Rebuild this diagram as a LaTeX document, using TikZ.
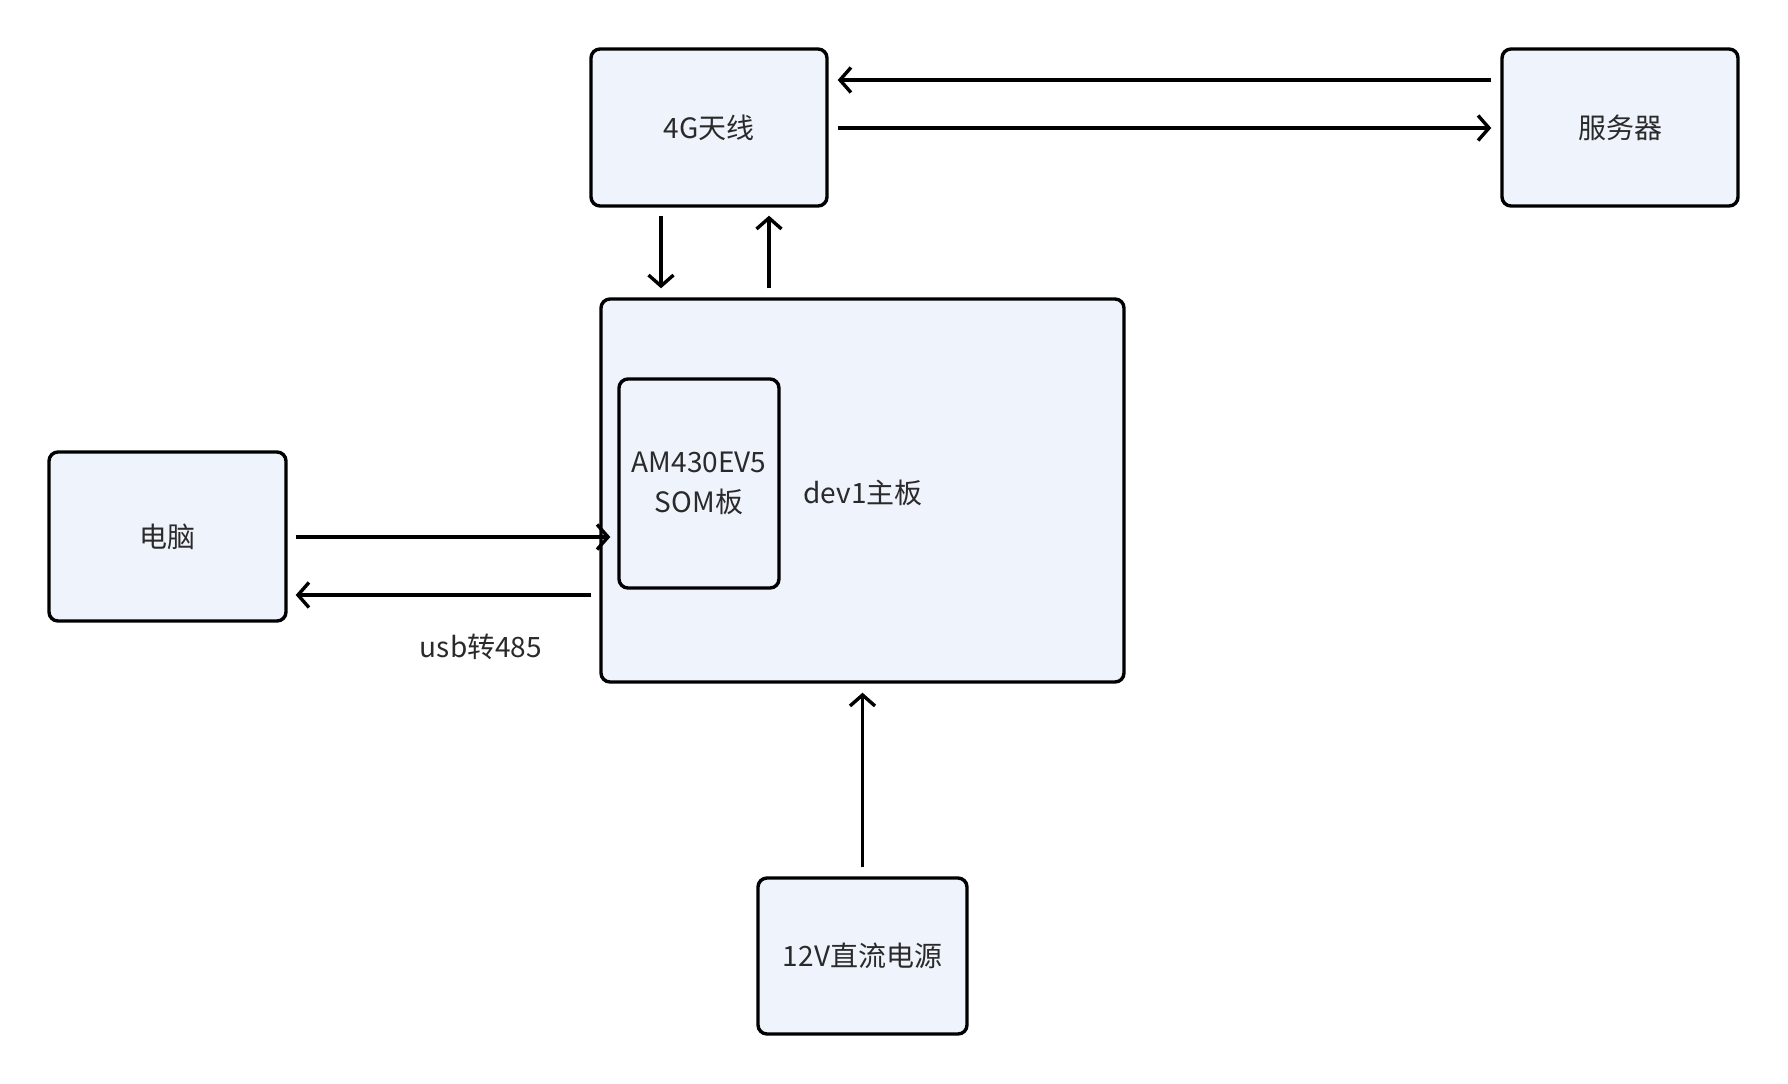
\documentclass[tikz,border=0pt]{standalone}
\usepackage{fontspec}
\setmainfont{Noto Sans CJK SC}
\usetikzlibrary{arrows.meta}
\definecolor{boxfill}{HTML}{EEF3FC}
\definecolor{txt}{HTML}{2A2A2A}
\tikzset{
  blk/.style={draw=black, line width=3.4pt, fill=boxfill, rounded corners=9pt,
    inner sep=0pt, text=txt, font=\fontsize{28pt}{40pt}\selectfont, align=center,
    execute at begin node={\vspace*{5pt}}},
  lbl/.style={text=txt, font=\fontsize{28pt}{40pt}\selectfont, inner sep=0pt},
  arr/.style={line width=3.4pt, -{Straight Barb[length=11pt,width=25pt,line width=3.4pt]}}
}
\begin{document}
\begin{tikzpicture}[x=1pt,y=-1pt]
\useasboundingbox (0,0) rectangle (1788,1084);
\fill[white] (0,0) rectangle (1788,1084);
% boxes
\node[blk, minimum width=236pt, minimum height=157pt] (ant) at (709,127.5) {4G天线};
\node[blk, minimum width=236pt, minimum height=157pt] (srv) at (1620,127.5) {服务器};
\node[blk, minimum width=523pt, minimum height=383pt] (main) at (862.5,490.5) {};
\node[blk, minimum width=160pt, minimum height=209pt] (som) at (699,483.5) {AM430EV5\\SOM板};
\node[blk, minimum width=237pt, minimum height=169pt] (pc) at (167.5,536.5) {电脑};
\node[blk, minimum width=209pt, minimum height=156pt] (psu) at (862.5,956) {12V直流电源};
% labels
\node[lbl] (devlbl) at (863,493) {dev1主板};
\node[lbl] (usblbl) at (481,647) {usb转485};
% connectors
\draw[arr, shorten <=9pt, shorten >=9pt] (srv.west |- 0,80) -- (ant.east |- 0,80);
\draw[arr, shorten <=9pt, shorten >=9pt] (ant.east |- 0,128) -- (srv.west |- 0,128);
\draw[arr, shorten <=8pt, shorten >=9pt] (ant.south -| 661,0) -- (main.north -| 661,0);
\draw[arr, shorten <=9pt, shorten >=8pt] (main.north -| 769,0) -- (ant.south -| 769,0);
\draw[arr, shorten <=8pt, shorten >=7pt] (pc.east |- 0,537) -- (som.west |- 0,537);
\draw[arr, shorten <=8pt, shorten >=8pt] (main.west |- 0,595) -- (pc.east |- 0,595);
\draw[arr, shorten <=9pt, shorten >=9pt] (psu.north) -- (main.south);
\end{tikzpicture}
\end{document}
